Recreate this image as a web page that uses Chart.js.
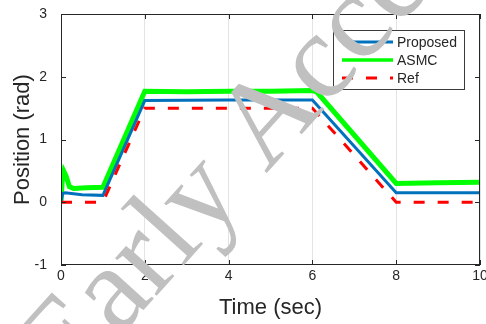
<!DOCTYPE html>
<html>
<head>
<meta charset="utf-8">
<script src="https://cdn.jsdelivr.net/npm/chart.js@4.4.1/dist/chart.umd.min.js"></script>
<style>
html, body { margin: 0; padding: 0; background: #fff; }
</style>
</head>
<body>
<canvas id="myChart" width="486" height="324"></canvas>
<script>

// data

const refTime = [0, 1, 2, 6, 8, 10];
const refPos = [0, 0, 1.5, 1.5, 0, 0];

const propTime = [0, 0.04, 0.1, 0.5, 1.0, 2.0, 4.0, 6.0, 8.0, 10];
const propPos = [0, 0.14, 0.15, 0.12, 0.11, 1.62, 1.63, 1.63, 0.15, 0.15];

const asmcTime = [0, 0.03, 0.07, 0.12, 0.2, 0.3, 0.6, 1.0, 2.0, 3.0, 4.0, 5.0, 6.0, 6.1, 8.0, 9.0, 10];
const asmcPos = [0, 0.35, 0.49, 0.42, 0.25, 0.22, 0.23, 0.24, 1.77, 1.76, 1.77, 1.77, 1.78, 1.76, 0.30, 0.31, 0.32];

const xTicks = [0, 2, 4, 6, 8, 10];
const yTicks = [-1, 0, 1, 2, 3];

const toXY = (t, v) => t.map((tt, i) => ({x: tt, y: v[i]}));

const FONT = 'Liberation Sans, Arial, sans-serif';
const DARK = '#262626';

//datasets

const data = {
  datasets: [{
    label: 'Proposed',
    data: toXY(propTime, propPos),
    borderColor: '#0072BD',
    borderWidth: 3,
    order: 1
  }, {
    label: 'ASMC',
    data: toXY(asmcTime, asmcPos),
    borderColor: '#00FF00',
    borderWidth: 5,
    order: 2
  }, {
    label: 'Ref',
    data: toXY(refTime, refPos),
    borderColor: '#FF0000',
    borderWidth: 3,
    borderDash: [11, 13],
    order: 0
  }]
};

//frame, inward ticks, legend box, watermark

const extras = {
  id: 'extras',
  afterDraw(chart) {
    const {ctx, chartArea: a, scales: {x, y}} = chart;
    ctx.save();

    // axes box
    ctx.strokeStyle = DARK;
    ctx.lineWidth = 1;
    ctx.setLineDash([]);
    ctx.strokeRect(a.left + 0.5, a.top + 0.5, a.right - a.left - 1, a.bottom - a.top - 1);
    ctx.beginPath();
    xTicks.forEach(v => {
      const px = Math.round(x.getPixelForValue(v)) + 0.5;
      ctx.moveTo(px, a.bottom); ctx.lineTo(px, a.bottom - 5);
      ctx.moveTo(px, a.top); ctx.lineTo(px, a.top + 5);
    });
    yTicks.forEach(v => {
      const py = Math.round(y.getPixelForValue(v)) + 0.5;
      ctx.moveTo(a.left, py); ctx.lineTo(a.left + 5, py);
      ctx.moveTo(a.right, py); ctx.lineTo(a.right - 5, py);
    });
    ctx.stroke();

    // legend
    const lx = 333, ly = 30, lw = 131, lh = 59;
    ctx.fillStyle = '#fff';
    ctx.fillRect(lx, ly, lw, lh);
    ctx.strokeStyle = '#3a3a3a';
    ctx.strokeRect(lx + 0.5, ly + 0.5, lw, lh);
    ctx.font = '14px ' + FONT;
    ctx.textBaseline = 'middle';
    ctx.textAlign = 'left';
    data.datasets.forEach((ds, i) => {
      const yy = ly + 12 + i * 18;
      ctx.strokeStyle = ds.borderColor;
      ctx.lineWidth = ds.borderWidth > 3 ? 3.5 : 3;
      ctx.setLineDash(ds.borderDash || []);
      ctx.beginPath();
      ctx.moveTo(lx + 9, yy); ctx.lineTo(lx + 60, yy);
      ctx.stroke();
      ctx.setLineDash([]);
      ctx.fillStyle = DARK;
      ctx.fillText(ds.label, lx + 64, yy + 1);
    });

    // watermark
    ctx.translate(266, 174);
    ctx.rotate(-48 * Math.PI / 180);
    ctx.font = '122px Liberation Serif, Times New Roman, serif';
    ctx.fillStyle = '#c0c0c0';
    ctx.textBaseline = 'alphabetic';
    ctx.fillText('Early Access', -ctx.measureText('Early ').width, 0);

    ctx.restore();
  }
};

//config

const config = {
  type: 'line',
  data,
  options: {
    responsive: false,
    animation: false,
    layout: { padding: { left: 0, right: 6, top: 14, bottom: 0 } },
    elements: { point: { radius: 0 }, line: { tension: 0 } },
    plugins: { legend: { display: false }, tooltip: { enabled: false } },
    scales: {
      x: {
        type: 'linear', min: 0, max: 10,
        ticks: { stepSize: 2, padding: 3, color: DARK, maxRotation: 0, font: { family: FONT, size: 14 } },
        grid: { color: '#e3e3e3', drawTicks: false },
        border: { display: false },
        title: { display: true, text: 'Time (sec)', color: DARK, font: { family: FONT, size: 22 }, padding: { top: 0, bottom: 3 } },
        afterFit(s) { s.height = 59; s.paddingLeft = 0; s.paddingRight = 0; }
      },
      y: {
        min: -1, max: 3,
        ticks: { stepSize: 1, padding: 6, color: DARK, font: { family: FONT, size: 14 } },
        grid: { display: false },
        border: { display: false },
        title: { display: true, text: 'Position (rad)', color: DARK, font: { family: FONT, size: 22 }, padding: { top: 10, bottom: 0 } },
        afterFit(s) { s.width = 61; s.paddingTop = 0; s.paddingBottom = 0; }
      }
    }
  },
  plugins: [extras]
};

//render

const myChart = new Chart(document.getElementById('myChart'), config);
</script>
</body>
</html>
